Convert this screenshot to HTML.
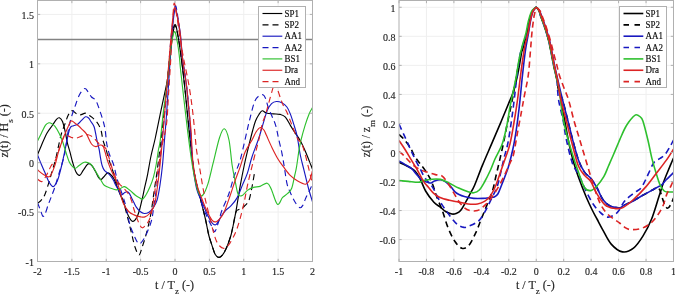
<!DOCTYPE html>
<html><head><meta charset="utf-8"><style>
html,body{margin:0;padding:0;background:#fff;}
text{stroke:currentColor;stroke-width:0.15px;}
body{width:675px;height:294px;overflow:hidden;}
svg{display:block;filter:blur(0.35px);}
</style></head><body>
<svg width="675" height="294" viewBox="0 0 675 294" font-family='"Liberation Serif", serif' fill="#262626" color="#262626">
<defs><clipPath id="cl"><rect x="37.50" y="0.50" width="275.00" height="261.00"/></clipPath>
<clipPath id="cr"><rect x="399.00" y="0.50" width="274.50" height="261.00"/></clipPath></defs>
<rect width="675" height="294" fill="#ffffff"/>
<g font-size="10">
<line x1="71.88" y1="0.50" x2="71.88" y2="261.50" stroke="#efefef" stroke-width="1"/>
<line x1="106.25" y1="0.50" x2="106.25" y2="261.50" stroke="#efefef" stroke-width="1"/>
<line x1="140.62" y1="0.50" x2="140.62" y2="261.50" stroke="#efefef" stroke-width="1"/>
<line x1="175.00" y1="0.50" x2="175.00" y2="261.50" stroke="#efefef" stroke-width="1"/>
<line x1="209.38" y1="0.50" x2="209.38" y2="261.50" stroke="#efefef" stroke-width="1"/>
<line x1="243.75" y1="0.50" x2="243.75" y2="261.50" stroke="#efefef" stroke-width="1"/>
<line x1="278.12" y1="0.50" x2="278.12" y2="261.50" stroke="#efefef" stroke-width="1"/>
<line x1="37.50" y1="212.08" x2="312.50" y2="212.08" stroke="#efefef" stroke-width="1"/>
<line x1="37.50" y1="162.66" x2="312.50" y2="162.66" stroke="#efefef" stroke-width="1"/>
<line x1="37.50" y1="113.24" x2="312.50" y2="113.24" stroke="#efefef" stroke-width="1"/>
<line x1="37.50" y1="63.82" x2="312.50" y2="63.82" stroke="#efefef" stroke-width="1"/>
<line x1="37.50" y1="14.40" x2="312.50" y2="14.40" stroke="#efefef" stroke-width="1"/>
<line x1="37.50" y1="39.5" x2="312.50" y2="39.5" stroke="#838383" stroke-width="1.4"/>
<g clip-path="url(#cl)" fill="none" stroke-width="1.15" stroke-linejoin="round">
<path d="M37.40,155.00 C38.07,153.40 39.82,149.03 41.40,145.40 C42.98,141.77 45.08,136.52 46.90,133.20 C48.72,129.88 50.70,127.82 52.30,125.50 C53.90,123.18 55.32,120.58 56.50,119.30 C57.68,118.02 58.40,117.43 59.40,117.80 C60.40,118.17 61.52,119.13 62.50,121.50 C63.48,123.87 64.50,128.47 65.30,132.00 C66.10,135.53 66.52,139.33 67.30,142.70 C68.08,146.07 69.10,148.90 70.00,152.20 C70.90,155.50 71.70,159.20 72.70,162.50 C73.70,165.80 74.85,169.85 76.00,172.00 C77.15,174.15 78.40,175.68 79.60,175.40 C80.80,175.12 81.93,172.08 83.20,170.30 C84.47,168.52 86.18,165.80 87.20,164.70 C88.22,163.60 88.45,163.45 89.30,163.70 C90.15,163.95 91.28,164.93 92.30,166.20 C93.32,167.47 94.37,169.43 95.40,171.30 C96.43,173.17 97.57,176.03 98.50,177.40 C99.43,178.77 100.15,179.57 101.00,179.50 C101.85,179.43 102.52,178.10 103.60,177.00 C104.68,175.90 106.35,173.32 107.50,172.90 C108.65,172.48 109.48,173.60 110.50,174.50 C111.52,175.40 112.63,176.58 113.60,178.30 C114.57,180.02 115.17,182.02 116.30,184.80 C117.43,187.58 119.03,191.63 120.40,195.00 C121.77,198.37 123.13,201.45 124.50,205.00 C125.87,208.55 127.23,213.57 128.60,216.30 C129.97,219.03 131.35,221.18 132.70,221.40 C134.05,221.62 135.57,219.50 136.70,217.60 C137.83,215.70 138.53,213.32 139.50,210.00 C140.47,206.68 141.67,201.33 142.50,197.70 C143.33,194.07 143.70,191.83 144.50,188.20 C145.30,184.57 146.22,181.27 147.30,175.90 C148.38,170.53 149.67,162.32 151.00,156.00 C152.33,149.68 153.65,145.52 155.30,138.00 C156.95,130.48 159.33,118.38 160.90,110.90 C162.47,103.42 163.63,98.18 164.70,93.10 C165.77,88.02 166.50,85.58 167.30,80.40 C168.10,75.22 168.72,68.73 169.50,62.00 C170.28,55.27 171.08,46.23 172.00,40.00 C172.92,33.77 174.00,25.27 175.00,24.60 C176.00,23.93 176.92,30.10 178.00,36.00 C179.08,41.90 180.33,51.00 181.50,60.00 C182.67,69.00 183.75,78.33 185.00,90.00 C186.25,101.67 187.67,117.50 189.00,130.00 C190.33,142.50 191.83,156.33 193.00,165.00 C194.17,173.67 194.83,176.63 196.00,182.00 C197.17,187.37 198.43,191.03 200.00,197.20 C201.57,203.37 203.95,212.70 205.40,219.00 C206.85,225.30 207.62,230.65 208.70,235.00 C209.78,239.35 210.83,241.88 211.90,245.10 C212.97,248.32 213.95,252.23 215.10,254.30 C216.25,256.37 217.58,257.35 218.80,257.50 C220.02,257.65 221.18,256.65 222.40,255.20 C223.62,253.75 224.95,251.25 226.10,248.80 C227.25,246.35 228.43,242.97 229.30,240.50 C230.17,238.03 230.63,236.62 231.30,234.00 C231.97,231.38 232.48,228.83 233.30,224.80 C234.12,220.77 235.03,216.37 236.20,209.80 C237.37,203.23 238.95,192.87 240.30,185.40 C241.65,177.93 242.93,171.40 244.30,165.00 C245.67,158.60 247.08,152.83 248.50,147.00 C249.92,141.17 251.63,134.33 252.80,130.00 C253.97,125.67 254.50,123.55 255.50,121.00 C256.50,118.45 257.68,116.40 258.80,114.70 C259.92,113.00 260.93,111.08 262.20,110.80 C263.47,110.52 264.55,112.48 266.40,113.00 C268.25,113.52 271.02,113.67 273.30,113.90 C275.58,114.13 278.08,113.87 280.10,114.40 C282.12,114.93 283.67,115.23 285.40,117.10 C287.13,118.97 288.93,123.05 290.50,125.60 C292.07,128.15 293.23,130.00 294.80,132.40 C296.37,134.80 298.35,137.32 299.90,140.00 C301.45,142.68 302.68,145.38 304.10,148.50 C305.52,151.62 307.02,155.28 308.40,158.70 C309.78,162.12 311.73,167.28 312.40,169.00" stroke="#000000"/>
<path d="M37.40,203.40 C38.02,202.88 39.88,201.70 41.10,200.30 C42.32,198.90 43.40,197.98 44.70,195.00 C46.00,192.02 47.63,186.50 48.90,182.40 C50.17,178.30 51.17,174.30 52.30,170.40 C53.43,166.50 54.27,164.82 55.70,159.00 C57.13,153.18 59.33,141.40 60.90,135.50 C62.47,129.60 63.87,127.02 65.10,123.60 C66.33,120.18 67.17,117.15 68.30,115.00 C69.43,112.85 70.45,110.85 71.90,110.70 C73.35,110.55 75.58,113.40 77.00,114.10 C78.42,114.80 78.97,115.05 80.40,114.90 C81.83,114.75 84.03,113.05 85.60,113.20 C87.17,113.35 88.38,114.80 89.80,115.80 C91.22,116.80 92.68,117.78 94.10,119.20 C95.52,120.62 97.12,122.33 98.30,124.30 C99.48,126.27 100.43,128.38 101.20,131.00 C101.97,133.62 102.10,136.97 102.90,140.00 C103.70,143.03 104.98,145.88 106.00,149.20 C107.02,152.52 107.92,156.43 109.00,159.90 C110.08,163.37 111.33,166.57 112.50,170.00 C113.67,173.43 114.87,177.00 116.00,180.50 C117.13,184.00 118.10,187.58 119.30,191.00 C120.50,194.42 121.92,197.00 123.20,201.00 C124.48,205.00 125.70,210.00 127.00,215.00 C128.30,220.00 129.67,225.67 131.00,231.00 C132.33,236.33 133.67,243.00 135.00,247.00 C136.33,251.00 137.80,255.00 139.00,255.00 C140.20,255.00 141.00,250.47 142.20,247.00 C143.40,243.53 145.02,238.47 146.20,234.20 C147.38,229.93 148.42,225.43 149.30,221.40 C150.18,217.37 150.72,214.90 151.50,210.00 C152.28,205.10 153.08,198.33 154.00,192.00 C154.92,185.67 156.00,179.33 157.00,172.00 C158.00,164.67 159.00,156.33 160.00,148.00 C161.00,139.67 162.00,130.83 163.00,122.00 C164.00,113.17 165.08,103.67 166.00,95.00 C166.92,86.33 167.67,78.50 168.50,70.00 C169.33,61.50 170.25,50.67 171.00,44.00 C171.75,37.33 172.33,33.08 173.00,30.00 C173.67,26.92 174.17,24.50 175.00,25.50 C175.83,26.50 176.92,30.42 178.00,36.00 C179.08,41.58 180.33,50.17 181.50,59.00 C182.67,67.83 183.75,77.33 185.00,89.00 C186.25,100.67 187.67,116.50 189.00,129.00 C190.33,141.50 191.83,155.25 193.00,164.00 C194.17,172.75 194.83,176.03 196.00,181.50 C197.17,186.97 198.43,190.58 200.00,196.80 C201.57,203.02 203.95,212.47 205.40,218.80 C206.85,225.13 207.62,230.45 208.70,234.80 C209.78,239.15 210.83,241.68 211.90,244.90 C212.97,248.12 213.95,252.03 215.10,254.10 C216.25,256.17 217.58,257.15 218.80,257.30 C220.02,257.45 221.18,256.45 222.40,255.00 C223.62,253.55 224.95,251.05 226.10,248.60 C227.25,246.15 228.43,242.77 229.30,240.30 C230.17,237.83 230.63,236.42 231.30,233.80 C231.97,231.18 232.52,228.23 233.30,224.60 C234.08,220.97 235.05,214.52 236.00,212.00 C236.95,209.48 238.08,210.08 239.00,209.50 C239.92,208.92 240.58,209.08 241.50,208.50 C242.42,207.92 243.30,207.25 244.50,206.00 C245.70,204.75 247.57,203.58 248.70,201.00 C249.83,198.42 250.45,194.50 251.30,190.50 C252.15,186.50 253.25,180.08 253.80,177.00 C254.35,173.92 254.47,172.83 254.60,172.00" stroke="#000000" stroke-dasharray="6 4"/>
<path d="M37.40,154.50 C38.07,156.17 40.05,161.27 41.40,164.50 C42.75,167.73 44.23,170.98 45.50,173.90 C46.77,176.82 47.72,179.88 49.00,182.00 C50.28,184.12 51.80,186.82 53.20,186.60 C54.60,186.38 56.27,183.13 57.40,180.70 C58.53,178.27 59.25,174.70 60.00,172.00 C60.75,169.30 61.13,167.80 61.90,164.50 C62.67,161.20 63.50,157.45 64.60,152.20 C65.70,146.95 67.53,137.15 68.50,133.00 C69.47,128.85 69.55,128.52 70.40,127.30 C71.25,126.08 72.38,126.22 73.60,125.70 C74.82,125.18 76.33,125.12 77.70,124.20 C79.07,123.28 80.50,121.43 81.80,120.20 C83.10,118.97 84.37,117.17 85.50,116.80 C86.63,116.43 87.77,117.30 88.60,118.00 C89.43,118.70 89.58,119.53 90.50,121.00 C91.42,122.47 93.05,123.72 94.10,126.80 C95.15,129.88 95.97,135.77 96.80,139.50 C97.63,143.23 98.47,146.05 99.10,149.20 C99.73,152.35 100.10,155.68 100.60,158.40 C101.10,161.12 101.47,163.50 102.10,165.50 C102.73,167.50 103.50,169.17 104.40,170.40 C105.30,171.63 106.48,171.97 107.50,172.90 C108.52,173.83 109.48,174.73 110.50,176.00 C111.52,177.27 112.83,179.15 113.60,180.50 C114.37,181.85 114.35,182.65 115.10,184.10 C115.85,185.55 117.20,187.45 118.10,189.20 C119.00,190.95 119.78,193.73 120.50,194.60 C121.22,195.47 121.68,194.75 122.40,194.40 C123.12,194.05 123.98,192.93 124.80,192.50 C125.62,192.07 126.55,191.67 127.30,191.80 C128.05,191.93 128.62,192.37 129.30,193.30 C129.98,194.23 130.63,195.87 131.40,197.40 C132.17,198.93 133.05,200.83 133.90,202.50 C134.75,204.17 135.47,205.90 136.50,207.40 C137.53,208.90 138.82,210.48 140.10,211.50 C141.38,212.52 142.72,213.38 144.20,213.50 C145.68,213.62 147.53,213.10 149.00,212.20 C150.47,211.30 151.65,210.13 153.00,208.10 C154.35,206.07 155.93,203.85 157.10,200.00 C158.27,196.15 159.10,190.83 160.00,185.00 C160.90,179.17 161.75,172.50 162.50,165.00 C163.25,157.50 163.87,147.83 164.50,140.00 C165.13,132.17 165.63,127.17 166.30,118.00 C166.97,108.83 167.80,95.50 168.50,85.00 C169.20,74.50 169.78,65.00 170.50,55.00 C171.22,45.00 172.02,32.83 172.80,25.00 C173.58,17.17 174.40,9.17 175.20,8.00 C176.00,6.83 176.75,13.83 177.60,18.00 C178.45,22.17 179.45,26.00 180.30,33.00 C181.15,40.00 181.70,51.50 182.70,60.00 C183.70,68.50 185.30,76.00 186.30,84.00 C187.30,92.00 188.00,100.33 188.70,108.00 C189.40,115.67 189.83,120.83 190.50,130.00 C191.17,139.17 191.68,153.22 192.70,163.00 C193.72,172.78 195.17,182.55 196.60,188.70 C198.03,194.85 199.60,195.77 201.30,199.90 C203.00,204.03 204.98,209.63 206.80,213.50 C208.62,217.37 210.62,221.28 212.20,223.10 C213.78,224.92 214.72,225.67 216.30,224.40 C217.88,223.13 220.08,217.90 221.70,215.50 C223.32,213.10 224.43,211.63 226.00,210.00 C227.57,208.37 229.23,207.77 231.10,205.70 C232.97,203.63 235.33,200.98 237.20,197.60 C239.07,194.22 240.60,189.48 242.30,185.40 C244.00,181.32 245.80,177.80 247.40,173.10 C249.00,168.40 250.02,162.97 251.90,157.20 C253.78,151.43 256.85,144.02 258.70,138.50 C260.55,132.98 261.57,128.78 263.00,124.10 C264.43,119.42 265.87,113.82 267.30,110.40 C268.73,106.98 270.08,105.08 271.60,103.60 C273.12,102.12 274.70,101.63 276.40,101.50 C278.10,101.37 280.05,101.88 281.80,102.80 C283.55,103.72 285.48,105.15 286.90,107.00 C288.32,108.85 289.17,111.05 290.30,113.90 C291.43,116.75 292.57,120.42 293.70,124.10 C294.83,127.78 296.00,130.85 297.10,136.00 C298.20,141.15 299.13,149.23 300.30,155.00 C301.47,160.77 302.75,165.10 304.10,170.60 C305.45,176.10 307.02,182.85 308.40,188.00 C309.78,193.15 311.73,199.25 312.40,201.50" stroke="#1818c0"/>
<path d="M37.40,202.50 C37.93,203.85 39.68,208.30 40.60,210.60 C41.52,212.90 42.13,215.78 42.90,216.30 C43.67,216.82 44.30,215.67 45.20,213.70 C46.10,211.73 47.28,207.32 48.30,204.50 C49.32,201.68 50.17,199.80 51.30,196.80 C52.43,193.80 53.93,190.03 55.10,186.50 C56.27,182.97 57.05,179.70 58.30,175.60 C59.55,171.50 61.47,165.88 62.60,161.90 C63.73,157.92 64.20,156.68 65.10,151.70 C66.00,146.72 67.02,137.53 68.00,132.00 C68.98,126.47 69.78,122.90 71.00,118.50 C72.22,114.10 73.87,109.60 75.30,105.60 C76.73,101.60 78.03,97.35 79.60,94.50 C81.17,91.65 83.28,88.93 84.70,88.50 C86.12,88.07 86.97,90.48 88.10,91.90 C89.23,93.32 90.22,95.58 91.50,97.00 C92.78,98.42 94.52,98.40 95.80,100.40 C97.08,102.40 98.07,105.87 99.20,109.00 C100.33,112.13 101.62,115.80 102.60,119.20 C103.58,122.60 104.40,125.27 105.10,129.40 C105.80,133.53 106.08,139.85 106.80,144.00 C107.52,148.15 108.25,150.80 109.40,154.30 C110.55,157.80 112.42,160.88 113.70,165.00 C114.98,169.12 115.68,174.12 117.10,179.00 C118.52,183.88 120.80,189.97 122.20,194.30 C123.60,198.63 124.30,200.22 125.50,205.00 C126.70,209.78 127.95,217.87 129.40,223.00 C130.85,228.13 132.60,232.33 134.20,235.80 C135.80,239.27 137.40,243.27 139.00,243.80 C140.60,244.33 142.35,241.13 143.80,239.00 C145.25,236.87 146.38,234.20 147.70,231.00 C149.02,227.80 150.65,224.13 151.70,219.80 C152.75,215.47 153.12,210.80 154.00,205.00 C154.88,199.20 156.00,192.50 157.00,185.00 C158.00,177.50 159.00,169.17 160.00,160.00 C161.00,150.83 162.00,140.00 163.00,130.00 C164.00,120.00 165.00,111.33 166.00,100.00 C167.00,88.67 168.00,74.00 169.00,62.00 C170.00,50.00 170.97,37.33 172.00,28.00 C173.03,18.67 174.20,7.67 175.20,6.00 C176.20,4.33 177.10,12.33 178.00,18.00 C178.90,23.67 179.77,32.67 180.60,40.00 C181.43,47.33 182.05,54.67 183.00,62.00 C183.95,69.33 185.30,76.00 186.30,84.00 C187.30,92.00 188.30,102.33 189.00,110.00 C189.70,117.67 189.88,121.13 190.50,130.00 C191.12,138.87 191.80,154.72 192.70,163.20 C193.60,171.68 194.47,174.32 195.90,180.90 C197.33,187.48 199.48,196.80 201.30,202.70 C203.12,208.60 204.98,212.23 206.80,216.30 C208.62,220.37 210.85,224.55 212.20,227.10 C213.55,229.65 213.85,232.45 214.90,231.60 C215.95,230.75 217.35,225.48 218.50,222.00 C219.65,218.52 220.08,215.37 221.80,210.70 C223.52,206.03 226.73,199.78 228.80,194.00 C230.87,188.22 232.33,181.57 234.20,176.00 C236.07,170.43 238.18,166.70 240.00,160.60 C241.82,154.50 243.53,146.05 245.10,139.40 C246.67,132.75 247.83,126.95 249.40,120.70 C250.97,114.45 252.93,106.02 254.50,101.90 C256.07,97.78 257.38,97.18 258.80,96.00 C260.22,94.82 261.87,94.38 263.00,94.80 C264.13,95.22 264.75,96.47 265.60,98.50 C266.45,100.53 266.97,103.87 268.10,107.00 C269.23,110.13 271.12,114.17 272.40,117.30 C273.68,120.43 274.80,122.40 275.80,125.80 C276.80,129.20 277.37,133.07 278.40,137.70 C279.43,142.33 280.97,148.40 282.00,153.60 C283.03,158.80 283.75,163.80 284.60,168.90 C285.45,174.00 286.08,180.12 287.10,184.20 C288.12,188.28 289.38,190.43 290.70,193.40 C292.02,196.37 293.47,199.62 295.00,202.00 C296.53,204.38 298.57,207.20 299.90,207.70 C301.23,208.20 301.98,206.72 303.00,205.00 C304.02,203.28 304.93,199.73 306.00,197.40 C307.07,195.07 308.33,193.23 309.40,191.00 C310.47,188.77 311.90,185.17 312.40,184.00" stroke="#1818c0" stroke-dasharray="6 4"/>
<path d="M37.40,141.30 C38.07,139.95 40.05,135.88 41.40,133.20 C42.75,130.52 44.25,126.93 45.50,125.20 C46.75,123.47 47.82,123.03 48.90,122.80 C49.98,122.57 50.98,123.20 52.00,123.80 C53.02,124.40 53.82,124.83 55.00,126.40 C56.18,127.97 57.85,130.72 59.10,133.20 C60.35,135.68 61.37,138.13 62.50,141.30 C63.63,144.47 64.77,148.75 65.90,152.20 C67.03,155.65 68.20,159.62 69.30,162.00 C70.40,164.38 71.47,165.45 72.50,166.50 C73.53,167.55 74.40,168.47 75.50,168.30 C76.60,168.13 77.65,166.50 79.10,165.50 C80.55,164.50 82.67,162.77 84.20,162.30 C85.73,161.83 87.12,162.30 88.30,162.70 C89.48,163.10 90.28,163.60 91.30,164.70 C92.32,165.80 93.38,167.68 94.40,169.30 C95.42,170.92 96.38,172.70 97.40,174.40 C98.42,176.10 99.47,177.80 100.50,179.50 C101.53,181.20 102.60,183.42 103.60,184.60 C104.60,185.78 105.40,186.03 106.50,186.60 C107.60,187.17 108.57,187.45 110.20,188.00 C111.83,188.55 114.58,189.82 116.30,189.90 C118.02,189.98 119.13,189.05 120.50,188.50 C121.87,187.95 122.92,186.28 124.50,186.60 C126.08,186.92 128.18,188.97 130.00,190.40 C131.82,191.83 133.88,194.02 135.40,195.20 C136.92,196.38 137.92,196.85 139.10,197.50 C140.28,198.15 141.37,199.52 142.50,199.10 C143.63,198.68 144.65,197.05 145.90,195.00 C147.15,192.95 148.75,189.75 150.00,186.80 C151.25,183.85 152.38,180.93 153.40,177.30 C154.42,173.67 155.27,169.55 156.10,165.00 C156.93,160.45 157.70,154.17 158.40,150.00 C159.10,145.83 159.45,146.52 160.30,140.00 C161.15,133.48 162.55,118.72 163.50,110.90 C164.45,103.08 165.12,100.42 166.00,93.10 C166.88,85.78 167.92,75.02 168.80,67.00 C169.68,58.98 170.35,50.92 171.30,45.00 C172.25,39.08 173.50,32.00 174.50,31.50 C175.50,31.00 176.52,38.08 177.30,42.00 C178.08,45.92 178.65,50.33 179.20,55.00 C179.75,59.67 179.80,62.50 180.60,70.00 C181.40,77.50 182.85,90.00 184.00,100.00 C185.15,110.00 186.25,120.00 187.50,130.00 C188.75,140.00 190.20,151.50 191.50,160.00 C192.80,168.50 194.03,175.37 195.30,181.00 C196.57,186.63 197.83,191.47 199.10,193.80 C200.37,196.13 201.42,196.70 202.90,195.00 C204.38,193.30 206.30,188.90 208.00,183.60 C209.70,178.30 211.18,170.85 213.10,163.20 C215.02,155.55 217.63,143.43 219.50,137.70 C221.37,131.97 222.72,128.42 224.30,128.80 C225.88,129.18 227.70,133.97 229.00,140.00 C230.30,146.03 231.07,158.12 232.10,165.00 C233.13,171.88 234.18,176.38 235.20,181.30 C236.22,186.22 237.02,192.13 238.20,194.50 C239.38,196.87 240.77,196.18 242.30,195.50 C243.83,194.82 245.53,191.75 247.40,190.40 C249.27,189.05 251.40,188.07 253.50,187.40 C255.60,186.73 257.72,187.10 260.00,186.40 C262.28,185.70 265.32,182.72 267.20,183.20 C269.08,183.68 269.60,185.78 271.30,189.30 C273.00,192.82 275.52,202.95 277.40,204.30 C279.28,205.65 280.88,199.22 282.60,197.40 C284.32,195.58 286.18,194.92 287.70,193.40 C289.22,191.88 290.52,191.37 291.70,188.30 C292.88,185.23 294.00,178.52 294.80,175.00 C295.60,171.48 295.80,171.33 296.50,167.20 C297.20,163.07 298.27,154.65 299.00,150.20 C299.73,145.75 299.90,144.60 300.90,140.50 C301.90,136.40 303.62,130.07 305.00,125.60 C306.38,121.13 307.97,116.67 309.20,113.70 C310.43,110.73 311.87,108.78 312.40,107.80" stroke="#2ec02e"/>
<path d="M37.40,169.80 C38.47,170.62 41.73,173.60 43.80,174.70 C45.87,175.80 47.95,177.97 49.80,176.40 C51.65,174.83 53.47,169.33 54.90,165.30 C56.33,161.27 57.13,156.42 58.40,152.20 C59.67,147.98 61.35,143.17 62.50,140.00 C63.65,136.83 64.38,135.37 65.30,133.20 C66.22,131.03 67.03,129.05 68.00,127.00 C68.97,124.95 69.88,121.50 71.10,120.90 C72.32,120.30 74.03,122.55 75.30,123.40 C76.57,124.25 77.57,125.00 78.70,126.00 C79.83,127.00 80.82,128.08 82.10,129.40 C83.38,130.72 84.83,131.47 86.40,133.90 C87.97,136.33 89.93,141.88 91.50,144.00 C93.07,146.12 94.38,146.43 95.80,146.60 C97.22,146.77 98.78,145.08 100.00,145.00 C101.22,144.92 102.25,144.90 103.10,146.10 C103.95,147.30 104.27,149.48 105.10,152.20 C105.93,154.92 106.92,159.00 108.10,162.40 C109.28,165.80 110.83,169.55 112.20,172.60 C113.57,175.65 115.12,178.00 116.30,180.70 C117.48,183.40 118.15,185.08 119.30,188.80 C120.45,192.52 121.65,199.22 123.20,203.00 C124.75,206.78 126.80,209.52 128.60,211.50 C130.40,213.48 131.97,214.00 134.00,214.90 C136.03,215.80 138.98,216.57 140.80,216.90 C142.62,217.23 143.43,217.47 144.90,216.90 C146.37,216.33 148.02,215.42 149.60,213.50 C151.18,211.58 153.17,209.32 154.40,205.40 C155.63,201.48 156.15,195.90 157.00,190.00 C157.85,184.10 158.67,177.50 159.50,170.00 C160.33,162.50 161.17,154.17 162.00,145.00 C162.83,135.83 163.67,125.00 164.50,115.00 C165.33,105.00 166.17,95.00 167.00,85.00 C167.83,75.00 168.67,64.83 169.50,55.00 C170.33,45.17 171.20,33.83 172.00,26.00 C172.80,18.17 173.47,9.83 174.30,8.00 C175.13,6.17 176.05,11.00 177.00,15.00 C177.95,19.00 179.05,24.50 180.00,32.00 C180.95,39.50 181.65,51.33 182.70,60.00 C183.75,68.67 185.30,76.00 186.30,84.00 C187.30,92.00 187.92,100.33 188.70,108.00 C189.48,115.67 190.28,120.83 191.00,130.00 C191.72,139.17 192.00,153.83 193.00,163.00 C194.00,172.17 195.62,179.30 197.00,185.00 C198.38,190.70 199.67,192.90 201.30,197.20 C202.93,201.50 204.98,206.95 206.80,210.80 C208.62,214.65 210.62,218.48 212.20,220.30 C213.78,222.12 214.72,222.37 216.30,221.70 C217.88,221.03 220.25,218.25 221.70,216.30 C223.15,214.35 223.62,213.38 225.00,210.00 C226.38,206.62 228.33,200.83 230.00,196.00 C231.67,191.17 233.33,185.77 235.00,181.00 C236.67,176.23 238.32,172.22 240.00,167.40 C241.68,162.58 243.12,156.63 245.10,152.10 C247.08,147.57 250.05,143.60 251.90,140.20 C253.75,136.80 254.78,133.82 256.20,131.70 C257.62,129.58 259.12,127.78 260.40,127.50 C261.68,127.22 262.92,128.73 263.90,130.00 C264.88,131.27 264.97,132.20 266.30,135.10 C267.63,138.00 269.98,143.47 271.90,147.40 C273.82,151.33 275.83,155.40 277.80,158.70 C279.77,162.00 281.58,164.37 283.70,167.20 C285.82,170.03 288.23,173.43 290.50,175.70 C292.77,177.97 294.80,179.38 297.30,180.80 C299.80,182.22 303.37,184.48 305.50,184.20 C307.63,183.92 308.95,181.30 310.10,179.10 C311.25,176.90 312.02,172.35 312.40,171.00" stroke="#dc2424"/>
<path d="M37.40,179.00 C38.18,179.42 40.47,182.35 42.10,181.50 C43.73,180.65 45.72,176.48 47.20,173.90 C48.68,171.32 49.58,168.42 51.00,166.00 C52.42,163.58 54.05,163.07 55.70,159.40 C57.35,155.73 59.33,147.98 60.90,144.00 C62.47,140.02 63.42,136.62 65.10,135.50 C66.78,134.38 69.15,136.87 71.00,137.30 C72.85,137.73 74.20,138.40 76.20,138.10 C78.20,137.80 81.02,136.07 83.00,135.50 C84.98,134.93 86.40,134.40 88.10,134.70 C89.80,135.00 91.50,135.92 93.20,137.30 C94.90,138.68 96.73,141.58 98.30,143.00 C99.87,144.42 101.30,144.80 102.60,145.80 C103.90,146.80 105.00,146.92 106.10,149.00 C107.20,151.08 108.18,155.05 109.20,158.30 C110.22,161.55 111.02,165.05 112.20,168.50 C113.38,171.95 115.07,176.42 116.30,179.00 C117.53,181.58 118.45,182.55 119.60,184.00 C120.75,185.45 121.82,186.17 123.20,187.70 C124.58,189.23 126.55,191.15 127.90,193.20 C129.25,195.25 130.28,197.28 131.30,200.00 C132.32,202.72 133.10,206.57 134.00,209.50 C134.90,212.43 135.78,215.12 136.70,217.60 C137.62,220.08 138.58,222.70 139.50,224.40 C140.42,226.10 141.08,227.77 142.20,227.80 C143.32,227.83 145.02,225.93 146.20,224.60 C147.38,223.27 148.38,221.87 149.30,219.80 C150.22,217.73 151.00,215.50 151.70,212.20 C152.40,208.90 152.95,203.70 153.50,200.00 C154.05,196.30 154.25,195.00 155.00,190.00 C155.75,185.00 156.92,177.00 158.00,170.00 C159.08,163.00 160.10,155.50 161.50,148.00 C162.90,140.50 165.23,133.83 166.40,125.00 C167.57,116.17 167.78,105.83 168.50,95.00 C169.22,84.17 170.07,70.83 170.70,60.00 C171.33,49.17 171.75,39.40 172.30,30.00 C172.85,20.60 173.30,6.27 174.00,3.60 C174.70,0.93 175.50,8.27 176.50,14.00 C177.50,19.73 178.77,30.33 180.00,38.00 C181.23,45.67 182.45,52.37 183.90,60.00 C185.35,67.63 187.32,75.87 188.70,83.80 C190.08,91.73 191.22,99.90 192.20,107.60 C193.18,115.30 193.87,122.85 194.60,130.00 C195.33,137.15 195.70,143.83 196.60,150.50 C197.50,157.17 198.98,164.03 200.00,170.00 C201.02,175.97 201.80,181.32 202.70,186.30 C203.60,191.28 204.27,194.90 205.40,199.90 C206.53,204.90 208.13,210.85 209.50,216.30 C210.87,221.75 212.43,228.45 213.60,232.60 C214.77,236.75 215.48,238.97 216.50,241.20 C217.52,243.43 218.57,244.82 219.70,246.00 C220.83,247.18 222.15,248.15 223.30,248.30 C224.45,248.45 225.52,247.73 226.60,246.90 C227.68,246.07 228.73,244.82 229.80,243.30 C230.87,241.78 231.88,240.02 233.00,237.80 C234.12,235.58 235.33,233.13 236.50,230.00 C237.67,226.87 238.75,223.50 240.00,219.00 C241.25,214.50 242.67,209.00 244.00,203.00 C245.33,197.00 246.40,190.17 248.00,183.00 C249.60,175.83 251.82,167.13 253.60,160.00 C255.38,152.87 257.27,146.18 258.70,140.20 C260.13,134.22 261.08,128.30 262.20,124.10 C263.32,119.90 264.53,117.68 265.40,115.00 C266.27,112.32 266.67,110.65 267.40,108.00 C268.13,105.35 268.83,102.57 269.80,99.10 C270.77,95.63 272.33,89.97 273.20,87.20 C274.07,84.43 274.40,82.50 275.00,82.50 C275.60,82.50 275.83,84.43 276.80,87.20 C277.77,89.97 279.68,95.97 280.80,99.10 C281.92,102.23 282.50,103.85 283.50,106.00 C284.50,108.15 285.57,109.27 286.80,112.00 C288.03,114.73 289.57,118.97 290.90,122.40 C292.23,125.83 293.62,129.77 294.80,132.60 C295.98,135.43 296.87,137.60 298.00,139.40 C299.13,141.20 300.43,141.03 301.60,143.40 C302.77,145.77 303.87,149.63 305.00,153.60 C306.13,157.57 307.42,163.23 308.40,167.20 C309.38,171.17 310.23,174.60 310.90,177.40 C311.57,180.20 312.15,182.90 312.40,184.00" stroke="#dc2424" stroke-dasharray="6 4"/>
</g>
<rect x="37.50" y="0.50" width="275.00" height="261.00" fill="none" stroke="#b0b0b0" stroke-width="1"/>
<line x1="37.50" y1="261.50" x2="37.50" y2="258.80" stroke="#b0b0b0" stroke-width="1"/>
<line x1="37.50" y1="0.50" x2="37.50" y2="3.20" stroke="#b0b0b0" stroke-width="1"/>
<line x1="71.88" y1="261.50" x2="71.88" y2="258.80" stroke="#b0b0b0" stroke-width="1"/>
<line x1="71.88" y1="0.50" x2="71.88" y2="3.20" stroke="#b0b0b0" stroke-width="1"/>
<line x1="106.25" y1="261.50" x2="106.25" y2="258.80" stroke="#b0b0b0" stroke-width="1"/>
<line x1="106.25" y1="0.50" x2="106.25" y2="3.20" stroke="#b0b0b0" stroke-width="1"/>
<line x1="140.62" y1="261.50" x2="140.62" y2="258.80" stroke="#b0b0b0" stroke-width="1"/>
<line x1="140.62" y1="0.50" x2="140.62" y2="3.20" stroke="#b0b0b0" stroke-width="1"/>
<line x1="175.00" y1="261.50" x2="175.00" y2="258.80" stroke="#b0b0b0" stroke-width="1"/>
<line x1="175.00" y1="0.50" x2="175.00" y2="3.20" stroke="#b0b0b0" stroke-width="1"/>
<line x1="209.38" y1="261.50" x2="209.38" y2="258.80" stroke="#b0b0b0" stroke-width="1"/>
<line x1="209.38" y1="0.50" x2="209.38" y2="3.20" stroke="#b0b0b0" stroke-width="1"/>
<line x1="243.75" y1="261.50" x2="243.75" y2="258.80" stroke="#b0b0b0" stroke-width="1"/>
<line x1="243.75" y1="0.50" x2="243.75" y2="3.20" stroke="#b0b0b0" stroke-width="1"/>
<line x1="278.12" y1="261.50" x2="278.12" y2="258.80" stroke="#b0b0b0" stroke-width="1"/>
<line x1="278.12" y1="0.50" x2="278.12" y2="3.20" stroke="#b0b0b0" stroke-width="1"/>
<line x1="312.50" y1="261.50" x2="312.50" y2="258.80" stroke="#b0b0b0" stroke-width="1"/>
<line x1="312.50" y1="0.50" x2="312.50" y2="3.20" stroke="#b0b0b0" stroke-width="1"/>
<line x1="37.50" y1="261.50" x2="40.20" y2="261.50" stroke="#b0b0b0" stroke-width="1"/>
<line x1="312.50" y1="261.50" x2="309.80" y2="261.50" stroke="#b0b0b0" stroke-width="1"/>
<line x1="37.50" y1="212.08" x2="40.20" y2="212.08" stroke="#b0b0b0" stroke-width="1"/>
<line x1="312.50" y1="212.08" x2="309.80" y2="212.08" stroke="#b0b0b0" stroke-width="1"/>
<line x1="37.50" y1="162.66" x2="40.20" y2="162.66" stroke="#b0b0b0" stroke-width="1"/>
<line x1="312.50" y1="162.66" x2="309.80" y2="162.66" stroke="#b0b0b0" stroke-width="1"/>
<line x1="37.50" y1="113.24" x2="40.20" y2="113.24" stroke="#b0b0b0" stroke-width="1"/>
<line x1="312.50" y1="113.24" x2="309.80" y2="113.24" stroke="#b0b0b0" stroke-width="1"/>
<line x1="37.50" y1="63.82" x2="40.20" y2="63.82" stroke="#b0b0b0" stroke-width="1"/>
<line x1="312.50" y1="63.82" x2="309.80" y2="63.82" stroke="#b0b0b0" stroke-width="1"/>
<line x1="37.50" y1="14.40" x2="40.20" y2="14.40" stroke="#b0b0b0" stroke-width="1"/>
<line x1="312.50" y1="14.40" x2="309.80" y2="14.40" stroke="#b0b0b0" stroke-width="1"/>
<text transform="translate(37.50,275.3) scale(1,1.100)" text-anchor="middle">-2</text>
<text transform="translate(71.88,275.3) scale(1,1.100)" text-anchor="middle">-1.5</text>
<text transform="translate(106.25,275.3) scale(1,1.100)" text-anchor="middle">-1</text>
<text transform="translate(140.62,275.3) scale(1,1.100)" text-anchor="middle">-0.5</text>
<text transform="translate(175.00,275.3) scale(1,1.100)" text-anchor="middle">0</text>
<text transform="translate(209.38,275.3) scale(1,1.100)" text-anchor="middle">0.5</text>
<text transform="translate(243.75,275.3) scale(1,1.100)" text-anchor="middle">1</text>
<text transform="translate(278.12,275.3) scale(1,1.100)" text-anchor="middle">1.5</text>
<text transform="translate(312.50,275.3) scale(1,1.100)" text-anchor="middle">2</text>
<text transform="translate(33.90,265.80) scale(1,1.100)" text-anchor="end">-1</text>
<text transform="translate(33.90,216.38) scale(1,1.100)" text-anchor="end">-0.5</text>
<text transform="translate(33.90,166.96) scale(1,1.100)" text-anchor="end">0</text>
<text transform="translate(33.90,117.54) scale(1,1.100)" text-anchor="end">0.5</text>
<text transform="translate(33.90,68.12) scale(1,1.100)" text-anchor="end">1</text>
<text transform="translate(33.90,18.70) scale(1,1.100)" text-anchor="end">1.5</text>
<line x1="426.45" y1="0.50" x2="426.45" y2="261.50" stroke="#efefef" stroke-width="1"/>
<line x1="453.90" y1="0.50" x2="453.90" y2="261.50" stroke="#efefef" stroke-width="1"/>
<line x1="481.35" y1="0.50" x2="481.35" y2="261.50" stroke="#efefef" stroke-width="1"/>
<line x1="508.80" y1="0.50" x2="508.80" y2="261.50" stroke="#efefef" stroke-width="1"/>
<line x1="536.25" y1="0.50" x2="536.25" y2="261.50" stroke="#efefef" stroke-width="1"/>
<line x1="563.70" y1="0.50" x2="563.70" y2="261.50" stroke="#efefef" stroke-width="1"/>
<line x1="591.15" y1="0.50" x2="591.15" y2="261.50" stroke="#efefef" stroke-width="1"/>
<line x1="618.60" y1="0.50" x2="618.60" y2="261.50" stroke="#efefef" stroke-width="1"/>
<line x1="646.05" y1="0.50" x2="646.05" y2="261.50" stroke="#efefef" stroke-width="1"/>
<line x1="399.00" y1="239.60" x2="673.50" y2="239.60" stroke="#efefef" stroke-width="1"/>
<line x1="399.00" y1="210.56" x2="673.50" y2="210.56" stroke="#efefef" stroke-width="1"/>
<line x1="399.00" y1="181.52" x2="673.50" y2="181.52" stroke="#efefef" stroke-width="1"/>
<line x1="399.00" y1="152.48" x2="673.50" y2="152.48" stroke="#efefef" stroke-width="1"/>
<line x1="399.00" y1="123.44" x2="673.50" y2="123.44" stroke="#efefef" stroke-width="1"/>
<line x1="399.00" y1="94.40" x2="673.50" y2="94.40" stroke="#efefef" stroke-width="1"/>
<line x1="399.00" y1="65.36" x2="673.50" y2="65.36" stroke="#efefef" stroke-width="1"/>
<line x1="399.00" y1="36.32" x2="673.50" y2="36.32" stroke="#efefef" stroke-width="1"/>
<line x1="399.00" y1="7.28" x2="673.50" y2="7.28" stroke="#efefef" stroke-width="1"/>

<g clip-path="url(#cr)" fill="none" stroke-width="1.60" stroke-linejoin="round">
<path d="M399.00,162.50 C399.83,162.83 402.17,163.67 404.00,164.50 C405.83,165.33 408.17,166.42 410.00,167.50 C411.83,168.58 413.33,169.17 415.00,171.00 C416.67,172.83 418.23,175.17 420.00,178.50 C421.77,181.83 423.28,187.03 425.60,191.00 C427.92,194.97 431.50,199.67 433.90,202.30 C436.30,204.93 438.05,205.27 440.00,206.80 C441.95,208.33 443.60,210.30 445.60,211.50 C447.60,212.70 450.27,213.67 452.00,214.00 C453.73,214.33 454.57,214.07 456.00,213.50 C457.43,212.93 458.90,212.65 460.60,210.60 C462.30,208.55 464.63,203.97 466.20,201.20 C467.77,198.43 468.60,196.67 470.00,194.00 C471.40,191.33 472.55,189.93 474.60,185.20 C476.65,180.47 479.48,172.45 482.30,165.60 C485.12,158.75 488.43,151.27 491.50,144.10 C494.57,136.93 497.90,129.25 500.70,122.60 C503.50,115.95 506.27,109.13 508.30,104.20 C510.33,99.27 511.35,97.87 512.90,93.00 C514.45,88.13 516.08,82.17 517.60,75.00 C519.12,67.83 521.18,54.17 522.00,50.00 C522.82,45.83 521.70,52.83 522.50,50.00 C523.30,47.17 525.72,37.67 526.80,33.00 C527.88,28.33 528.17,25.42 529.00,22.00 C529.83,18.58 530.88,14.72 531.80,12.50 C532.72,10.28 533.72,9.53 534.50,8.70 C535.28,7.87 535.70,7.12 536.50,7.50 C537.30,7.88 538.55,9.53 539.30,11.00 C540.05,12.47 540.05,13.60 541.00,16.30 C541.95,19.00 543.67,23.12 545.00,27.20 C546.33,31.28 547.87,36.27 549.00,40.80 C550.13,45.33 550.88,49.87 551.80,54.40 C552.72,58.93 553.60,63.73 554.50,68.00 C555.40,72.27 556.12,74.67 557.20,80.00 C558.28,85.33 559.77,93.33 561.00,100.00 C562.23,106.67 563.23,112.58 564.60,120.00 C565.97,127.42 567.67,137.35 569.20,144.50 C570.73,151.65 572.00,156.77 573.80,162.90 C575.60,169.03 577.95,175.67 580.00,181.30 C582.05,186.93 584.07,191.92 586.10,196.70 C588.13,201.48 590.38,206.28 592.20,210.00 C594.02,213.72 595.22,215.65 597.00,219.00 C598.78,222.35 600.53,225.92 602.90,230.10 C605.27,234.28 607.95,240.47 611.20,244.10 C614.45,247.73 618.68,251.22 622.40,251.90 C626.12,252.58 630.03,250.90 633.50,248.20 C636.97,245.50 640.18,240.57 643.20,235.70 C646.22,230.83 649.00,225.45 651.60,219.00 C654.20,212.55 656.73,203.33 658.80,197.00 C660.87,190.67 662.47,185.33 664.00,181.00 C665.53,176.67 666.42,174.83 668.00,171.00 C669.58,167.17 672.58,160.17 673.50,158.00" stroke="#000000"/>
<path d="M399.00,134.40 C399.87,135.25 402.32,137.28 404.20,139.50 C406.08,141.72 408.50,144.82 410.30,147.70 C412.10,150.58 413.37,154.15 415.00,156.80 C416.63,159.45 418.40,161.33 420.10,163.60 C421.80,165.87 423.50,167.85 425.20,170.40 C426.90,172.95 428.88,176.07 430.30,178.90 C431.72,181.73 432.63,184.43 433.70,187.40 C434.77,190.37 435.27,192.83 436.70,196.70 C438.13,200.57 440.43,205.48 442.30,210.60 C444.17,215.72 445.82,222.28 447.90,227.40 C449.98,232.52 452.48,237.83 454.80,241.30 C457.12,244.77 459.48,247.50 461.80,248.20 C464.12,248.90 466.38,248.05 468.70,245.50 C471.02,242.95 473.60,237.32 475.70,232.90 C477.80,228.48 479.43,223.63 481.30,219.00 C483.17,214.37 485.05,209.75 486.90,205.10 C488.75,200.45 490.85,196.12 492.40,191.10 C493.95,186.08 495.02,180.02 496.20,175.00 C497.38,169.98 498.28,166.33 499.50,161.00 C500.72,155.67 502.28,148.83 503.50,143.00 C504.72,137.17 505.48,132.47 506.80,126.00 C508.12,119.53 510.03,111.03 511.40,104.20 C512.77,97.37 513.73,92.03 515.00,85.00 C516.27,77.97 517.67,68.67 519.00,62.00 C520.33,55.33 521.63,49.83 523.00,45.00 C524.37,40.17 526.17,36.83 527.20,33.00 C528.23,29.17 528.40,25.45 529.20,22.00 C530.00,18.55 531.12,14.53 532.00,12.30 C532.88,10.07 533.75,9.40 534.50,8.60 C535.25,7.80 535.73,7.10 536.50,7.50 C537.27,7.90 538.45,9.53 539.15,11.00 C539.85,12.47 539.78,13.60 540.70,16.30 C541.62,19.00 543.37,23.12 544.70,27.20 C546.03,31.28 547.57,36.27 548.70,40.80 C549.83,45.33 550.58,49.87 551.50,54.40 C552.42,58.93 553.30,63.73 554.20,68.00 C555.10,72.27 556.18,76.33 556.90,80.00 C557.62,83.67 557.55,86.67 558.50,90.00 C559.45,93.33 561.07,95.00 562.60,100.00 C564.13,105.00 566.08,113.60 567.70,120.00 C569.32,126.40 570.52,131.75 572.30,138.40 C574.08,145.05 576.37,154.28 578.40,159.90 C580.43,165.52 582.45,169.03 584.50,172.10 C586.55,175.17 588.65,175.73 590.70,178.30 C592.75,180.87 594.75,183.92 596.80,187.50 C598.85,191.08 600.80,196.72 603.00,199.80 C605.20,202.88 607.67,204.70 610.00,206.00 C612.33,207.30 615.33,207.27 617.00,207.60 C618.67,207.93 618.83,208.40 620.00,208.00 C621.17,207.60 622.22,206.15 624.00,205.20 C625.78,204.25 627.72,203.87 630.70,202.30 C633.68,200.73 638.18,197.90 641.90,195.80 C645.62,193.70 650.40,191.13 653.00,189.70 C655.60,188.27 656.37,187.15 657.50,187.20 C658.63,187.25 659.08,188.45 659.80,190.00 C660.52,191.55 661.00,194.08 661.80,196.50 C662.60,198.92 663.65,202.53 664.60,204.50 C665.55,206.47 666.52,208.22 667.50,208.30 C668.48,208.38 669.50,206.72 670.50,205.00 C671.50,203.28 673.00,199.17 673.50,198.00" stroke="#000000" stroke-dasharray="6 4"/>
<path d="M399.00,161.00 C399.97,161.57 402.70,163.12 404.80,164.40 C406.90,165.68 409.48,166.85 411.60,168.70 C413.72,170.55 415.67,173.52 417.50,175.50 C419.33,177.48 420.90,179.47 422.60,180.60 C424.30,181.73 426.28,181.90 427.70,182.30 C429.12,182.70 429.97,183.22 431.10,183.00 C432.23,182.78 432.93,181.55 434.50,181.00 C436.07,180.45 438.65,179.57 440.50,179.70 C442.35,179.83 443.90,180.67 445.60,181.80 C447.30,182.93 449.13,184.83 450.70,186.50 C452.27,188.17 453.62,190.47 455.00,191.80 C456.38,193.13 457.45,193.72 459.00,194.50 C460.55,195.28 461.85,195.85 464.30,196.50 C466.75,197.15 470.57,198.08 473.70,198.40 C476.83,198.72 480.28,198.55 483.10,198.40 C485.92,198.25 488.73,197.73 490.60,197.50 C492.47,197.27 493.07,197.63 494.30,197.00 C495.53,196.37 496.85,195.53 498.00,193.70 C499.15,191.87 499.95,189.12 501.20,186.00 C502.45,182.88 504.15,178.72 505.50,175.00 C506.85,171.28 507.80,169.37 509.30,163.70 C510.80,158.03 512.90,149.95 514.50,141.00 C516.10,132.05 517.57,121.00 518.90,110.00 C520.23,99.00 521.40,85.00 522.50,75.00 C523.60,65.00 524.50,57.00 525.50,50.00 C526.50,43.00 527.70,37.67 528.50,33.00 C529.30,28.33 529.62,25.42 530.30,22.00 C530.98,18.58 531.85,14.70 532.60,12.50 C533.35,10.30 534.12,9.60 534.80,8.80 C535.48,8.00 535.90,7.33 536.70,7.70 C537.50,8.07 538.78,9.57 539.60,11.00 C540.42,12.43 540.60,13.60 541.60,16.30 C542.60,19.00 544.27,23.12 545.60,27.20 C546.93,31.28 548.47,36.27 549.60,40.80 C550.73,45.33 551.48,49.87 552.40,54.40 C553.32,58.93 554.20,63.73 555.10,68.00 C556.00,72.27 556.55,74.67 557.80,80.00 C559.05,85.33 560.95,93.33 562.60,100.00 C564.25,106.67 566.08,113.60 567.70,120.00 C569.32,126.40 570.52,131.75 572.30,138.40 C574.08,145.05 576.37,154.28 578.40,159.90 C580.43,165.52 582.45,169.03 584.50,172.10 C586.55,175.17 588.65,175.73 590.70,178.30 C592.75,180.87 594.75,183.92 596.80,187.50 C598.85,191.08 600.80,196.72 603.00,199.80 C605.20,202.88 607.67,204.70 610.00,206.00 C612.33,207.30 615.33,207.27 617.00,207.60 C618.67,207.93 618.83,208.40 620.00,208.00 C621.17,207.60 622.22,206.15 624.00,205.20 C625.78,204.25 627.72,203.87 630.70,202.30 C633.68,200.73 638.18,197.90 641.90,195.80 C645.62,193.70 650.30,191.18 653.00,189.70 C655.70,188.22 656.70,187.65 658.10,186.90 C659.50,186.15 660.05,186.38 661.40,185.20 C662.75,184.02 664.18,181.88 666.20,179.80 C668.22,177.72 672.28,173.88 673.50,172.70" stroke="#1818c0"/>
<path d="M399.00,124.20 C399.87,126.07 402.38,131.43 404.20,135.40 C406.02,139.37 408.10,144.07 409.90,148.00 C411.70,151.93 413.30,155.55 415.00,159.00 C416.70,162.45 418.68,165.95 420.10,168.70 C421.52,171.45 422.37,173.52 423.50,175.50 C424.63,177.48 425.77,179.18 426.90,180.60 C428.03,182.02 429.17,182.58 430.30,184.00 C431.43,185.42 432.58,187.10 433.70,189.10 C434.82,191.10 435.57,193.33 437.00,196.00 C438.43,198.67 440.03,201.63 442.30,205.10 C444.57,208.57 448.05,213.55 450.60,216.80 C453.15,220.05 455.37,222.83 457.60,224.60 C459.83,226.37 462.07,227.17 464.00,227.40 C465.93,227.63 467.32,226.70 469.20,226.00 C471.08,225.30 473.37,224.45 475.30,223.20 C477.23,221.95 478.87,221.03 480.80,218.50 C482.73,215.97 484.97,211.63 486.90,208.00 C488.83,204.37 490.62,200.50 492.40,196.70 C494.18,192.90 495.72,191.42 497.60,185.20 C499.48,178.98 501.92,166.77 503.70,159.40 C505.48,152.03 506.77,149.18 508.30,141.00 C509.83,132.82 511.53,120.47 512.90,110.30 C514.27,100.13 515.32,89.22 516.50,80.00 C517.68,70.78 518.75,61.33 520.00,55.00 C521.25,48.67 522.75,45.67 524.00,42.00 C525.25,38.33 526.58,36.33 527.50,33.00 C528.42,29.67 528.72,25.45 529.50,22.00 C530.28,18.55 531.35,14.53 532.20,12.30 C533.05,10.07 533.88,9.40 534.60,8.60 C535.32,7.80 535.75,7.10 536.50,7.50 C537.25,7.90 538.42,9.53 539.10,11.00 C539.78,12.47 539.68,13.60 540.60,16.30 C541.52,19.00 543.27,23.12 544.60,27.20 C545.93,31.28 547.47,36.27 548.60,40.80 C549.73,45.33 550.48,49.87 551.40,54.40 C552.32,58.93 553.20,63.73 554.10,68.00 C555.00,72.27 556.05,74.67 556.80,80.00 C557.55,85.33 557.55,93.33 558.60,100.00 C559.65,106.67 561.85,113.60 563.10,120.00 C564.35,126.40 564.57,131.25 566.10,138.40 C567.63,145.55 570.18,156.80 572.30,162.90 C574.42,169.00 576.52,170.32 578.80,175.00 C581.08,179.68 583.62,186.17 586.00,191.00 C588.38,195.83 590.73,200.43 593.10,204.00 C595.47,207.57 597.82,210.22 600.20,212.40 C602.58,214.58 605.02,216.70 607.40,217.10 C609.78,217.50 612.52,215.98 614.50,214.80 C616.48,213.62 617.73,212.13 619.30,210.00 C620.87,207.87 622.28,204.18 623.90,202.00 C625.52,199.82 627.00,198.60 629.00,196.90 C631.00,195.20 633.90,193.28 635.90,191.80 C637.90,190.32 639.48,189.80 641.00,188.00 C642.52,186.20 643.68,183.55 645.00,181.00 C646.32,178.45 647.40,175.80 648.90,172.70 C650.40,169.60 652.13,164.78 654.00,162.40 C655.87,160.02 658.23,159.75 660.10,158.40 C661.97,157.05 663.50,156.35 665.20,154.30 C666.90,152.25 668.92,148.48 670.30,146.10 C671.68,143.72 672.97,141.02 673.50,140.00" stroke="#1818c0" stroke-dasharray="6 4"/>
<path d="M399.00,180.60 C400.53,180.73 404.97,181.12 408.20,181.40 C411.43,181.68 415.85,182.43 418.40,182.30 C420.95,182.17 421.23,181.12 423.50,180.60 C425.77,180.08 429.17,179.40 432.00,179.20 C434.83,179.00 437.67,178.77 440.50,179.40 C443.33,180.03 445.97,181.55 449.00,183.00 C452.03,184.45 455.52,186.63 458.70,188.10 C461.88,189.57 465.60,191.02 468.10,191.80 C470.60,192.58 471.83,193.10 473.70,192.80 C475.57,192.50 477.50,191.80 479.30,190.00 C481.10,188.20 482.63,185.33 484.50,182.00 C486.37,178.67 488.75,173.83 490.50,170.00 C492.25,166.17 493.05,163.32 495.00,159.00 C496.95,154.68 500.23,149.65 502.20,144.10 C504.17,138.55 505.52,131.83 506.80,125.70 C508.08,119.57 508.88,112.75 509.90,107.30 C510.92,101.85 511.88,97.88 512.90,93.00 C513.92,88.12 514.98,83.50 516.00,78.00 C517.02,72.50 517.92,65.50 519.00,60.00 C520.08,54.50 521.33,49.50 522.50,45.00 C523.67,40.50 525.03,36.92 526.00,33.00 C526.97,29.08 527.42,25.00 528.30,21.50 C529.18,18.00 530.30,14.17 531.30,12.00 C532.30,9.83 533.43,9.25 534.30,8.50 C535.17,7.75 535.68,7.08 536.50,7.50 C537.32,7.92 538.48,9.53 539.20,11.00 C539.92,12.47 539.87,13.60 540.80,16.30 C541.73,19.00 543.47,23.12 544.80,27.20 C546.13,31.28 547.67,36.27 548.80,40.80 C549.93,45.33 550.68,49.87 551.60,54.40 C552.52,58.93 553.40,63.73 554.30,68.00 C555.20,72.27 556.12,76.00 557.00,80.00 C557.88,84.00 558.77,86.67 559.60,92.00 C560.43,97.33 560.92,105.28 562.00,112.00 C563.08,118.72 564.38,125.35 566.10,132.30 C567.82,139.25 570.25,147.07 572.30,153.70 C574.35,160.33 576.37,166.47 578.40,172.10 C580.43,177.73 582.45,184.42 584.50,187.50 C586.55,190.58 588.67,190.82 590.70,190.60 C592.73,190.38 594.52,188.52 596.70,186.20 C598.88,183.88 601.83,180.07 603.80,176.70 C605.77,173.33 606.93,169.57 608.50,166.00 C610.07,162.43 611.45,159.38 613.20,155.30 C614.95,151.22 617.57,144.88 619.00,141.50 C620.43,138.12 620.83,137.17 621.80,135.00 C622.77,132.83 623.67,130.62 624.80,128.50 C625.93,126.38 627.28,124.18 628.60,122.30 C629.92,120.42 631.47,118.47 632.70,117.20 C633.93,115.93 634.82,114.82 636.00,114.70 C637.18,114.58 638.65,115.45 639.80,116.50 C640.95,117.55 641.55,117.08 642.90,121.00 C644.25,124.92 646.40,133.77 647.90,140.00 C649.40,146.23 650.55,152.95 651.90,158.40 C653.25,163.85 654.63,168.28 656.00,172.70 C657.37,177.12 658.73,181.85 660.10,184.90 C661.47,187.95 662.83,189.82 664.20,191.00 C665.57,192.18 666.75,191.83 668.30,192.00 C669.85,192.17 672.63,192.00 673.50,192.00" stroke="#2ec02e"/>
<path d="M399.00,140.50 C400.03,142.03 403.15,146.47 405.20,149.70 C407.25,152.93 409.27,156.50 411.30,159.90 C413.33,163.30 415.37,166.52 417.40,170.10 C419.43,173.68 421.63,178.52 423.50,181.40 C425.37,184.28 426.90,185.42 428.60,187.40 C430.30,189.38 431.80,191.62 433.70,193.30 C435.60,194.98 437.38,196.33 440.00,197.50 C442.62,198.67 446.28,199.53 449.40,200.30 C452.52,201.07 455.58,201.48 458.70,202.10 C461.82,202.72 464.97,203.68 468.10,204.00 C471.23,204.32 474.70,204.47 477.50,204.00 C480.30,203.53 482.72,202.60 484.90,201.20 C487.08,199.80 488.75,198.30 490.60,195.60 C492.45,192.90 494.35,188.93 496.00,185.00 C497.65,181.07 499.17,175.83 500.50,172.00 C501.83,168.17 502.43,166.65 504.00,162.00 C505.57,157.35 508.15,151.18 509.90,144.10 C511.65,137.02 513.23,126.85 514.50,119.50 C515.77,112.15 516.42,107.92 517.50,100.00 C518.58,92.08 519.83,80.67 521.00,72.00 C522.17,63.33 523.33,54.50 524.50,48.00 C525.67,41.50 527.08,37.33 528.00,33.00 C528.92,28.67 529.27,25.43 530.00,22.00 C530.73,18.57 531.62,14.62 532.40,12.40 C533.18,10.18 534.00,9.50 534.70,8.70 C535.40,7.90 535.81,7.22 536.60,7.60 C537.39,7.98 538.67,9.55 539.45,11.00 C540.23,12.45 540.32,13.60 541.30,16.30 C542.27,19.00 543.97,23.12 545.30,27.20 C546.63,31.28 548.17,36.27 549.30,40.80 C550.43,45.33 551.18,49.87 552.10,54.40 C553.02,58.93 553.90,63.73 554.80,68.00 C555.70,72.27 556.47,74.67 557.50,80.00 C558.53,85.33 559.57,93.33 561.00,100.00 C562.43,106.67 564.22,112.58 566.10,120.00 C567.98,127.42 570.25,136.83 572.30,144.50 C574.35,152.17 576.37,160.88 578.40,166.00 C580.43,171.12 582.45,172.65 584.50,175.20 C586.55,177.75 588.65,178.23 590.70,181.30 C592.75,184.37 594.50,189.75 596.80,193.60 C599.10,197.45 602.30,202.10 604.50,204.40 C606.70,206.70 608.42,206.75 610.00,207.40 C611.58,208.05 612.83,208.10 614.00,208.30 C615.17,208.50 615.52,208.72 617.00,208.60 C618.48,208.48 620.15,209.12 622.90,207.60 C625.65,206.08 629.68,202.95 633.50,199.50 C637.32,196.05 642.05,191.20 645.80,186.90 C649.55,182.60 652.60,178.12 656.00,173.70 C659.40,169.28 663.28,164.48 666.20,160.40 C669.12,156.32 672.28,151.07 673.50,149.20" stroke="#dc2424"/>
<path d="M399.00,151.50 C399.68,152.05 401.85,153.63 403.10,154.80 C404.35,155.97 404.80,156.75 406.50,158.50 C408.20,160.25 411.03,163.47 413.30,165.30 C415.57,167.13 417.83,168.37 420.10,169.50 C422.37,170.63 424.35,171.25 426.90,172.10 C429.45,172.95 432.90,173.97 435.40,174.60 C437.90,175.23 439.88,174.58 441.90,175.90 C443.92,177.22 445.63,179.85 447.50,182.50 C449.37,185.15 451.23,188.68 453.10,191.80 C454.97,194.92 456.83,198.53 458.70,201.20 C460.57,203.87 462.42,206.23 464.30,207.80 C466.18,209.37 467.80,210.13 470.00,210.60 C472.20,211.07 475.32,211.23 477.50,210.60 C479.68,209.97 481.23,208.37 483.10,206.80 C484.97,205.23 486.83,203.38 488.70,201.20 C490.57,199.02 492.43,196.52 494.30,193.70 C496.17,190.88 498.03,187.73 499.90,184.30 C501.77,180.87 503.82,176.65 505.50,173.10 C507.18,169.55 508.67,166.10 510.00,163.00 C511.33,159.90 512.25,159.55 513.50,154.50 C514.75,149.45 516.15,139.97 517.50,132.70 C518.85,125.43 520.43,117.18 521.60,110.90 C522.77,104.62 523.38,100.98 524.50,95.00 C525.62,89.02 527.30,82.50 528.30,75.00 C529.30,67.50 529.90,57.00 530.50,50.00 C531.10,43.00 531.45,37.67 531.90,33.00 C532.35,28.33 532.80,25.00 533.20,22.00 C533.60,19.00 533.88,17.03 534.30,15.00 C534.72,12.97 535.20,10.93 535.70,9.80 C536.20,8.67 536.58,8.00 537.30,8.20 C538.02,8.40 539.13,9.53 540.00,11.00 C540.87,12.47 541.42,14.17 542.50,17.00 C543.58,19.83 545.17,24.00 546.50,28.00 C547.83,32.00 549.28,36.67 550.50,41.00 C551.72,45.33 552.75,50.00 553.80,54.00 C554.85,58.00 555.88,61.50 556.80,65.00 C557.72,68.50 558.10,71.17 559.30,75.00 C560.50,78.83 562.45,83.83 564.00,88.00 C565.55,92.17 566.97,94.67 568.60,100.00 C570.23,105.33 572.17,114.12 573.80,120.00 C575.43,125.88 576.87,130.18 578.40,135.30 C579.93,140.42 581.47,145.58 583.00,150.70 C584.53,155.82 586.07,160.90 587.60,166.00 C589.13,171.10 590.67,176.43 592.20,181.30 C593.73,186.17 595.27,191.10 596.80,195.20 C598.33,199.30 599.70,202.85 601.40,205.90 C603.10,208.95 604.82,211.23 607.00,213.50 C609.18,215.77 612.40,217.92 614.50,219.50 C616.60,221.08 617.85,221.67 619.60,223.00 C621.35,224.33 623.15,226.40 625.00,227.50 C626.85,228.60 628.12,229.40 630.70,229.60 C633.28,229.80 637.48,229.53 640.50,228.70 C643.52,227.87 646.25,226.45 648.80,224.60 C651.35,222.75 653.48,220.62 655.80,217.60 C658.12,214.58 660.85,210.45 662.70,206.50 C664.55,202.55 665.50,197.38 666.90,193.90 C668.30,190.42 670.00,187.92 671.10,185.60 C672.20,183.28 673.10,180.93 673.50,180.00" stroke="#dc2424" stroke-dasharray="6 4"/>
</g>
<rect x="399.00" y="0.50" width="274.50" height="261.00" fill="none" stroke="#b0b0b0" stroke-width="1"/>
<line x1="399.00" y1="261.50" x2="399.00" y2="258.80" stroke="#b0b0b0" stroke-width="1"/>
<line x1="399.00" y1="0.50" x2="399.00" y2="3.20" stroke="#b0b0b0" stroke-width="1"/>
<line x1="426.45" y1="261.50" x2="426.45" y2="258.80" stroke="#b0b0b0" stroke-width="1"/>
<line x1="426.45" y1="0.50" x2="426.45" y2="3.20" stroke="#b0b0b0" stroke-width="1"/>
<line x1="453.90" y1="261.50" x2="453.90" y2="258.80" stroke="#b0b0b0" stroke-width="1"/>
<line x1="453.90" y1="0.50" x2="453.90" y2="3.20" stroke="#b0b0b0" stroke-width="1"/>
<line x1="481.35" y1="261.50" x2="481.35" y2="258.80" stroke="#b0b0b0" stroke-width="1"/>
<line x1="481.35" y1="0.50" x2="481.35" y2="3.20" stroke="#b0b0b0" stroke-width="1"/>
<line x1="508.80" y1="261.50" x2="508.80" y2="258.80" stroke="#b0b0b0" stroke-width="1"/>
<line x1="508.80" y1="0.50" x2="508.80" y2="3.20" stroke="#b0b0b0" stroke-width="1"/>
<line x1="536.25" y1="261.50" x2="536.25" y2="258.80" stroke="#b0b0b0" stroke-width="1"/>
<line x1="536.25" y1="0.50" x2="536.25" y2="3.20" stroke="#b0b0b0" stroke-width="1"/>
<line x1="563.70" y1="261.50" x2="563.70" y2="258.80" stroke="#b0b0b0" stroke-width="1"/>
<line x1="563.70" y1="0.50" x2="563.70" y2="3.20" stroke="#b0b0b0" stroke-width="1"/>
<line x1="591.15" y1="261.50" x2="591.15" y2="258.80" stroke="#b0b0b0" stroke-width="1"/>
<line x1="591.15" y1="0.50" x2="591.15" y2="3.20" stroke="#b0b0b0" stroke-width="1"/>
<line x1="618.60" y1="261.50" x2="618.60" y2="258.80" stroke="#b0b0b0" stroke-width="1"/>
<line x1="618.60" y1="0.50" x2="618.60" y2="3.20" stroke="#b0b0b0" stroke-width="1"/>
<line x1="646.05" y1="261.50" x2="646.05" y2="258.80" stroke="#b0b0b0" stroke-width="1"/>
<line x1="646.05" y1="0.50" x2="646.05" y2="3.20" stroke="#b0b0b0" stroke-width="1"/>
<line x1="673.50" y1="261.50" x2="673.50" y2="258.80" stroke="#b0b0b0" stroke-width="1"/>
<line x1="673.50" y1="0.50" x2="673.50" y2="3.20" stroke="#b0b0b0" stroke-width="1"/>
<line x1="399.00" y1="239.60" x2="401.70" y2="239.60" stroke="#b0b0b0" stroke-width="1"/>
<line x1="673.50" y1="239.60" x2="670.80" y2="239.60" stroke="#b0b0b0" stroke-width="1"/>
<line x1="399.00" y1="210.56" x2="401.70" y2="210.56" stroke="#b0b0b0" stroke-width="1"/>
<line x1="673.50" y1="210.56" x2="670.80" y2="210.56" stroke="#b0b0b0" stroke-width="1"/>
<line x1="399.00" y1="181.52" x2="401.70" y2="181.52" stroke="#b0b0b0" stroke-width="1"/>
<line x1="673.50" y1="181.52" x2="670.80" y2="181.52" stroke="#b0b0b0" stroke-width="1"/>
<line x1="399.00" y1="152.48" x2="401.70" y2="152.48" stroke="#b0b0b0" stroke-width="1"/>
<line x1="673.50" y1="152.48" x2="670.80" y2="152.48" stroke="#b0b0b0" stroke-width="1"/>
<line x1="399.00" y1="123.44" x2="401.70" y2="123.44" stroke="#b0b0b0" stroke-width="1"/>
<line x1="673.50" y1="123.44" x2="670.80" y2="123.44" stroke="#b0b0b0" stroke-width="1"/>
<line x1="399.00" y1="94.40" x2="401.70" y2="94.40" stroke="#b0b0b0" stroke-width="1"/>
<line x1="673.50" y1="94.40" x2="670.80" y2="94.40" stroke="#b0b0b0" stroke-width="1"/>
<line x1="399.00" y1="65.36" x2="401.70" y2="65.36" stroke="#b0b0b0" stroke-width="1"/>
<line x1="673.50" y1="65.36" x2="670.80" y2="65.36" stroke="#b0b0b0" stroke-width="1"/>
<line x1="399.00" y1="36.32" x2="401.70" y2="36.32" stroke="#b0b0b0" stroke-width="1"/>
<line x1="673.50" y1="36.32" x2="670.80" y2="36.32" stroke="#b0b0b0" stroke-width="1"/>
<line x1="399.00" y1="7.28" x2="401.70" y2="7.28" stroke="#b0b0b0" stroke-width="1"/>
<line x1="673.50" y1="7.28" x2="670.80" y2="7.28" stroke="#b0b0b0" stroke-width="1"/>
<text transform="translate(399.00,275.3) scale(1,1.100)" text-anchor="middle">-1</text>
<text transform="translate(426.45,275.3) scale(1,1.100)" text-anchor="middle">-0.8</text>
<text transform="translate(453.90,275.3) scale(1,1.100)" text-anchor="middle">-0.6</text>
<text transform="translate(481.35,275.3) scale(1,1.100)" text-anchor="middle">-0.4</text>
<text transform="translate(508.80,275.3) scale(1,1.100)" text-anchor="middle">-0.2</text>
<text transform="translate(536.25,275.3) scale(1,1.100)" text-anchor="middle">0</text>
<text transform="translate(563.70,275.3) scale(1,1.100)" text-anchor="middle">0.2</text>
<text transform="translate(591.15,275.3) scale(1,1.100)" text-anchor="middle">0.4</text>
<text transform="translate(618.60,275.3) scale(1,1.100)" text-anchor="middle">0.6</text>
<text transform="translate(646.05,275.3) scale(1,1.100)" text-anchor="middle">0.8</text>
<text transform="translate(673.50,275.3) scale(1,1.100)" text-anchor="middle">1</text>
<text transform="translate(395.40,243.90) scale(1,1.100)" text-anchor="end">-0.6</text>
<text transform="translate(395.40,214.86) scale(1,1.100)" text-anchor="end">-0.4</text>
<text transform="translate(395.40,185.82) scale(1,1.100)" text-anchor="end">-0.2</text>
<text transform="translate(395.40,156.78) scale(1,1.100)" text-anchor="end">0</text>
<text transform="translate(395.40,127.74) scale(1,1.100)" text-anchor="end">0.2</text>
<text transform="translate(395.40,98.70) scale(1,1.100)" text-anchor="end">0.4</text>
<text transform="translate(395.40,69.66) scale(1,1.100)" text-anchor="end">0.6</text>
<text transform="translate(395.40,40.62) scale(1,1.100)" text-anchor="end">0.8</text>
<text transform="translate(395.40,11.58) scale(1,1.100)" text-anchor="end">1</text>
</g>
<text x="174.50" y="288.6" font-size="12" text-anchor="middle">t / T<tspan font-size="9" dy="5">z</tspan><tspan dy="-5"> (-)</tspan></text>
<text x="535.40" y="288.6" font-size="12" text-anchor="middle">t / T<tspan font-size="9" dy="5">z</tspan><tspan dy="-5"> (-)</tspan></text>
<text transform="translate(8.10,130.80) rotate(-90)" font-size="12.00" text-anchor="middle">z(t) / H<tspan font-size="9" dy="5">s</tspan><tspan dy="-5"> (-)</tspan></text>
<text transform="translate(369.70,131.40) rotate(-90)" font-size="11.60" text-anchor="middle">z(t) / z<tspan font-size="9" dy="5">m</tspan><tspan dy="-5"> (-)</tspan></text>
<rect x="258.50" y="6.50" width="47.00" height="81.00" fill="#ffffff" stroke="#b0b0b0" stroke-width="1"/>
<line x1="262.50" y1="13.50" x2="282.30" y2="13.50" stroke="#000000" stroke-width="1.15"/>
<text transform="translate(284.60,16.70) scale(1,1.100)" font-size="9" fill="#000">SP1</text>
<line x1="262.50" y1="24.85" x2="282.30" y2="24.85" stroke="#000000" stroke-width="1.15" stroke-dasharray="6 4"/>
<text transform="translate(284.60,28.05) scale(1,1.100)" font-size="9" fill="#000">SP2</text>
<line x1="262.50" y1="36.20" x2="282.30" y2="36.20" stroke="#1818c0" stroke-width="1.15"/>
<text transform="translate(284.60,39.40) scale(1,1.100)" font-size="9" fill="#000">AA1</text>
<line x1="262.50" y1="47.55" x2="282.30" y2="47.55" stroke="#1818c0" stroke-width="1.15" stroke-dasharray="6 4"/>
<text transform="translate(284.60,50.75) scale(1,1.100)" font-size="9" fill="#000">AA2</text>
<line x1="262.50" y1="58.90" x2="282.30" y2="58.90" stroke="#2ec02e" stroke-width="1.15"/>
<text transform="translate(284.60,62.10) scale(1,1.100)" font-size="9" fill="#000">BS1</text>
<line x1="262.50" y1="70.25" x2="282.30" y2="70.25" stroke="#dc2424" stroke-width="1.15"/>
<text transform="translate(284.60,73.45) scale(1,1.100)" font-size="9" fill="#000">Dra</text>
<line x1="262.50" y1="81.60" x2="282.30" y2="81.60" stroke="#dc2424" stroke-width="1.15" stroke-dasharray="6 4"/>
<text transform="translate(284.60,84.80) scale(1,1.100)" font-size="9" fill="#000">And</text>
<rect x="619.50" y="6.50" width="47.00" height="81.00" fill="#ffffff" stroke="#b0b0b0" stroke-width="1"/>
<line x1="623.50" y1="13.50" x2="643.30" y2="13.50" stroke="#000000" stroke-width="1.60"/>
<text transform="translate(645.60,16.70) scale(1,1.100)" font-size="9" fill="#000">SP1</text>
<line x1="623.50" y1="24.85" x2="643.30" y2="24.85" stroke="#000000" stroke-width="1.60" stroke-dasharray="5.5 5.5"/>
<text transform="translate(645.60,28.05) scale(1,1.100)" font-size="9" fill="#000">SP2</text>
<line x1="623.50" y1="36.20" x2="643.30" y2="36.20" stroke="#1818c0" stroke-width="1.60"/>
<text transform="translate(645.60,39.40) scale(1,1.100)" font-size="9" fill="#000">AA1</text>
<line x1="623.50" y1="47.55" x2="643.30" y2="47.55" stroke="#1818c0" stroke-width="1.60" stroke-dasharray="5.5 5.5"/>
<text transform="translate(645.60,50.75) scale(1,1.100)" font-size="9" fill="#000">AA2</text>
<line x1="623.50" y1="58.90" x2="643.30" y2="58.90" stroke="#2ec02e" stroke-width="1.60"/>
<text transform="translate(645.60,62.10) scale(1,1.100)" font-size="9" fill="#000">BS1</text>
<line x1="623.50" y1="70.25" x2="643.30" y2="70.25" stroke="#dc2424" stroke-width="1.60"/>
<text transform="translate(645.60,73.45) scale(1,1.100)" font-size="9" fill="#000">Dra</text>
<line x1="623.50" y1="81.60" x2="643.30" y2="81.60" stroke="#dc2424" stroke-width="1.60" stroke-dasharray="5.5 5.5"/>
<text transform="translate(645.60,84.80) scale(1,1.100)" font-size="9" fill="#000">And</text>
</svg>
</body></html>
